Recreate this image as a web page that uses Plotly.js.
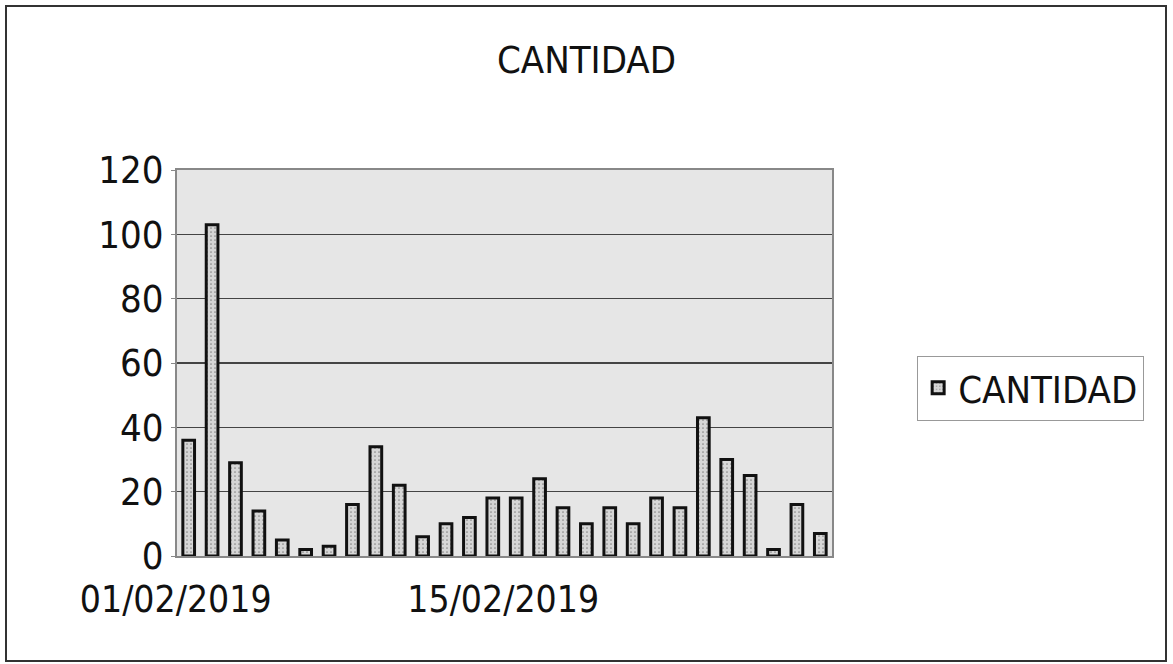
<!DOCTYPE html>
<html>
<head>
<meta charset="utf-8">
<script src="https://cdn.plot.ly/plotly-3.0.1.min.js"></script>
<style>
  html, body { margin: 0; padding: 0; background: #fff; }
  #wrap { position: relative; width: 1173px; height: 664px; }
  #chart { width: 1173px; height: 664px; }
  #frame { position: absolute; left: 5px; top: 5px; width: 1158px; height: 653px;
           border: 2px solid #333; pointer-events: none; }
</style>
</head>
<body>
<div id="wrap">
  <div id="chart"></div>
  <div id="frame"></div>
</div>
<script>
// Dates (February 2019) and daily counts
const dates = [
  '2019-02-01','2019-02-02','2019-02-03','2019-02-04','2019-02-05','2019-02-06','2019-02-07',
  '2019-02-08','2019-02-09','2019-02-10','2019-02-11','2019-02-12','2019-02-13','2019-02-14',
  '2019-02-15','2019-02-16','2019-02-17','2019-02-18','2019-02-19','2019-02-20','2019-02-21',
  '2019-02-22','2019-02-23','2019-02-24','2019-02-25','2019-02-26','2019-02-27','2019-02-28'
];
const cantidad = [36, 103, 29, 14, 5, 2, 3, 16, 34, 22, 6, 10, 12, 18,
                  18, 24, 15, 10, 15, 10, 18, 15, 43, 30, 25, 2, 16, 7];
const xTickVals = ['2019-02-01', '2019-02-15'];
const xTickText = ['01/02/2019', '15/02/2019'];
const yTickVals = [0, 20, 40, 60, 80, 100, 120];
const seriesName = 'CANTIDAD';
const chartTitle = 'CANTIDAD';

const FONT = '"Liberation Sans Narrow", "Arial Narrow", "DejaVu Sans Condensed", "Liberation Sans", Arial, sans-serif';

const trace = {
  type: 'bar',
  x: dates,
  y: cantidad,
  name: seriesName,
  width: 0.5 * 86400000,
  marker: {
    color: '#cfcfcf',
    line: { color: '#111', width: 3 },
    pattern: { shape: '.', fgcolor: '#8a8a8a', bgcolor: '#d6d6d6', size: 4, solidity: 0.15 }
  },
  showlegend: true
};

const layout = {
  width: 1173,
  height: 664,
  margin: { l: 177, r: 341, t: 170, b: 108 },
  paper_bgcolor: '#ffffff',
  plot_bgcolor: '#e6e6e6',
  font: { family: FONT, color: '#111', size: 38 },
  title: {
    text: chartTitle,
    font: { family: FONT, size: 38, color: '#111' },
    x: 0.5, xref: 'container', xanchor: 'center',
    y: 1 - 60 / 664, yref: 'container', yanchor: 'middle'
  },
  xaxis: {
    type: 'date',
    range: ['2019-01-31 12:00', '2019-02-28 12:00'],
    tickmode: 'array',
    tickvals: xTickVals,
    ticktext: xTickText,
    ticks: '',
    showgrid: false,
    zeroline: false,
    showline: true,
    linecolor: '#888',
    linewidth: 2,
    mirror: true,
    tickfont: { family: FONT, size: 37, color: '#111' },
    ticklabelstandoff: 10,
    ticklabelshift: -13
  },
  yaxis: {
    range: [0, 120],
    tickmode: 'array',
    tickvals: yTickVals,
    ticks: 'outside',
    ticklen: 4,
    tickcolor: '#888',
    showgrid: true,
    gridcolor: '#444',
    gridwidth: 1.5,
    zeroline: false,
    showline: true,
    linecolor: '#888',
    linewidth: 2,
    mirror: true,
    tickfont: { family: FONT, size: 38, color: '#111' }
  },
  legend: {
    x: 1.13, xanchor: 'left',
    y: 0.435, yanchor: 'middle',
    bgcolor: 'rgba(0,0,0,0)',
    bordercolor: '#999',
    borderwidth: 1,
    font: { family: FONT, size: 38, color: '#111' },
    itemwidth: 30
  },
  bargap: 0.5
};

Plotly.newPlot('chart', [trace], layout, { displayModeBar: false, staticPlot: true });
</script>
</body>
</html>
